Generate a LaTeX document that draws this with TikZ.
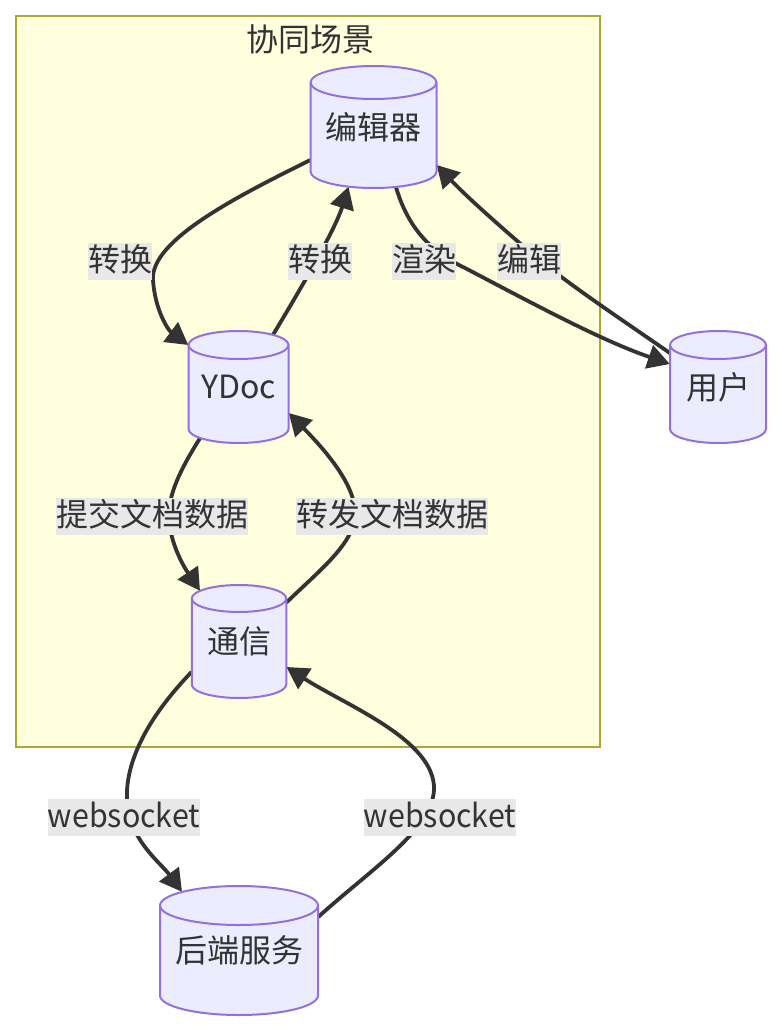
\documentclass[tikz,border=0pt]{standalone}
\usepackage{fontspec}
\setmainfont{Noto Sans CJK SC}
\usetikzlibrary{arrows.meta,calc}
\definecolor{edgec}{HTML}{333333}
\definecolor{nodefill}{HTML}{ECECFF}
\definecolor{nodeline}{HTML}{9370DB}
\definecolor{clfill}{HTML}{FFFFDE}
\definecolor{clline}{HTML}{AAAA33}
\definecolor{labfill}{HTML}{E8E8E8}
\definecolor{txt}{HTML}{333333}
\pgfdeclarelayer{bglayer}
\pgfdeclarelayer{edgelayer}
\pgfsetlayers{bglayer,edgelayer,main}
\tikzset{
  cylbody/.style={fill=nodefill, draw=nodeline, line width=2pt},
  cylline/.style={draw=nodeline, line width=2pt},
  dbtext/.style={rectangle, inner sep=0pt, text=txt, font=\fontsize{32}{38}\selectfont},
  lab/.style={rectangle, inner sep=0pt, fill=labfill, text=txt, font=\fontsize{32}{38}\selectfont,
    text height=26pt, text depth=5pt, minimum height=37pt},
  titletext/.style={rectangle, inner sep=0pt, text=txt, font=\fontsize{32}{38}\selectfont},
  clusterbox/.style={rectangle, inner sep=0pt, fill=clfill, draw=clline, line width=2pt},
  conn/.style={draw=edgec, line width=3.8pt, -{Triangle[length=22pt,width=24pt]}},
}
% name, cx, cy, w, h, ry, text
\newcommand\dbnode[7]{%
  \path[cylbody] (#2-#4/2,#3-#5/2+#6) -- (#2-#4/2,#3+#5/2-#6)
    arc[start angle=180,end angle=360,x radius={#4/2*1pt},y radius={#6*1pt}]
    -- (#2+#4/2,#3-#5/2+#6)
    arc[start angle=0,end angle=180,x radius={#4/2*1pt},y radius={#6*1pt}] -- cycle;
  \draw[cylline] (#2-#4/2,#3-#5/2+#6)
    arc[start angle=180,end angle=360,x radius={#4/2*1pt},y radius={#6*1pt}];
  \node[dbtext, minimum width=#4pt, minimum height=#5pt] (#1) at (#2,#3) {#7};
}
\begin{document}
\begin{tikzpicture}[x=1pt,y=-1pt]
\useasboundingbox (0,0) rectangle (780,1032);
\begin{pgfonlayer}{bglayer}
  \fill[white] (0,0) rectangle (780,1032);
  \node[clusterbox, minimum width=584pt, minimum height=731pt] (cl) at (308,381.5) {};
\end{pgfonlayer}
\node[titletext] (title) at (310,39) {协同场景};

\dbnode{ed}{373.5}{127}{126}{122}{16.5}{编辑器}
\dbnode{yd}{238.5}{387}{100}{112}{14}{YDoc}
\dbnode{us}{718}{387}{96}{112}{14}{用户}
\dbnode{tx}{239}{641.5}{94.5}{113}{13.5}{通信}
\dbnode{hd}{239}{950.5}{158}{129}{19.5}{后端服务}

\node[lab] (l1) at (120,261) {转换};
\node[lab] (l2) at (320,261) {转换};
\node[lab] (l3) at (424,261) {渲染};
\node[lab] (l4) at (529,261) {编辑};
\node[lab] (l5) at (152,516) {提交文档数据};
\node[lab] (l6) at (392,516) {转发文档数据};
\node[lab] (l7) at (124,817) {\scalebox{0.95}[1]{websocket}};
\node[lab] (l8) at (440,817) {\scalebox{0.95}[1]{websocket}};

\begin{pgfonlayer}{edgelayer}
\draw[conn] ($(ed.west)+(0,33)$) .. controls (240,195) and (150,240) .. (153,280)
  .. controls (155,310) and (168,330) .. ($(yd.west)+(0,-42)$);
\draw[conn] ($(yd.north)+(34.5,4)$) .. controls (300,290) and (335,230) .. ($(ed.south)+(-25,-1.5)$);
\draw[conn] ($(ed.south)+(22.5,-1)$) .. controls (410,235) and (438,255) .. (465,268)
  .. controls (530,302) and (600,340) .. ($(us.west)+(0,-23)$);
\draw[conn] ($(us.west)+(0,-34)$) .. controls (615,315) and (565,282) .. (530,252)
  .. controls (495,222) and (465,195) .. ($(ed.east)+(0,38)$);
\draw[conn] ($(yd.south)+(-38.5,-5)$) .. controls (180,470) and (168,495) .. (169,518)
  .. controls (170,545) and (186,570) .. ($(tx.north)+(-39,6)$);
\draw[conn] ($(tx.east)+(0,-39)$) .. controls (320,570) and (352,545) .. (355,517)
  .. controls (358,485) and (320,445) .. ($(yd.east)+(0,26)$);
\draw[conn] ($(tx.west)+(0,30.5)$) .. controls (150,715) and (125,760) .. (127,800)
  .. controls (129,840) and (160,862) .. ($(hd.north)+(-57,6)$);
\draw[conn] ($(hd.east)+(0,-33.5)$) .. controls (370,870) and (432,830) .. (434,790)
  .. controls (436,740) and (345,705) .. ($(tx.east)+(0,25.5)$);
\end{pgfonlayer}
\end{tikzpicture}
\end{document}
